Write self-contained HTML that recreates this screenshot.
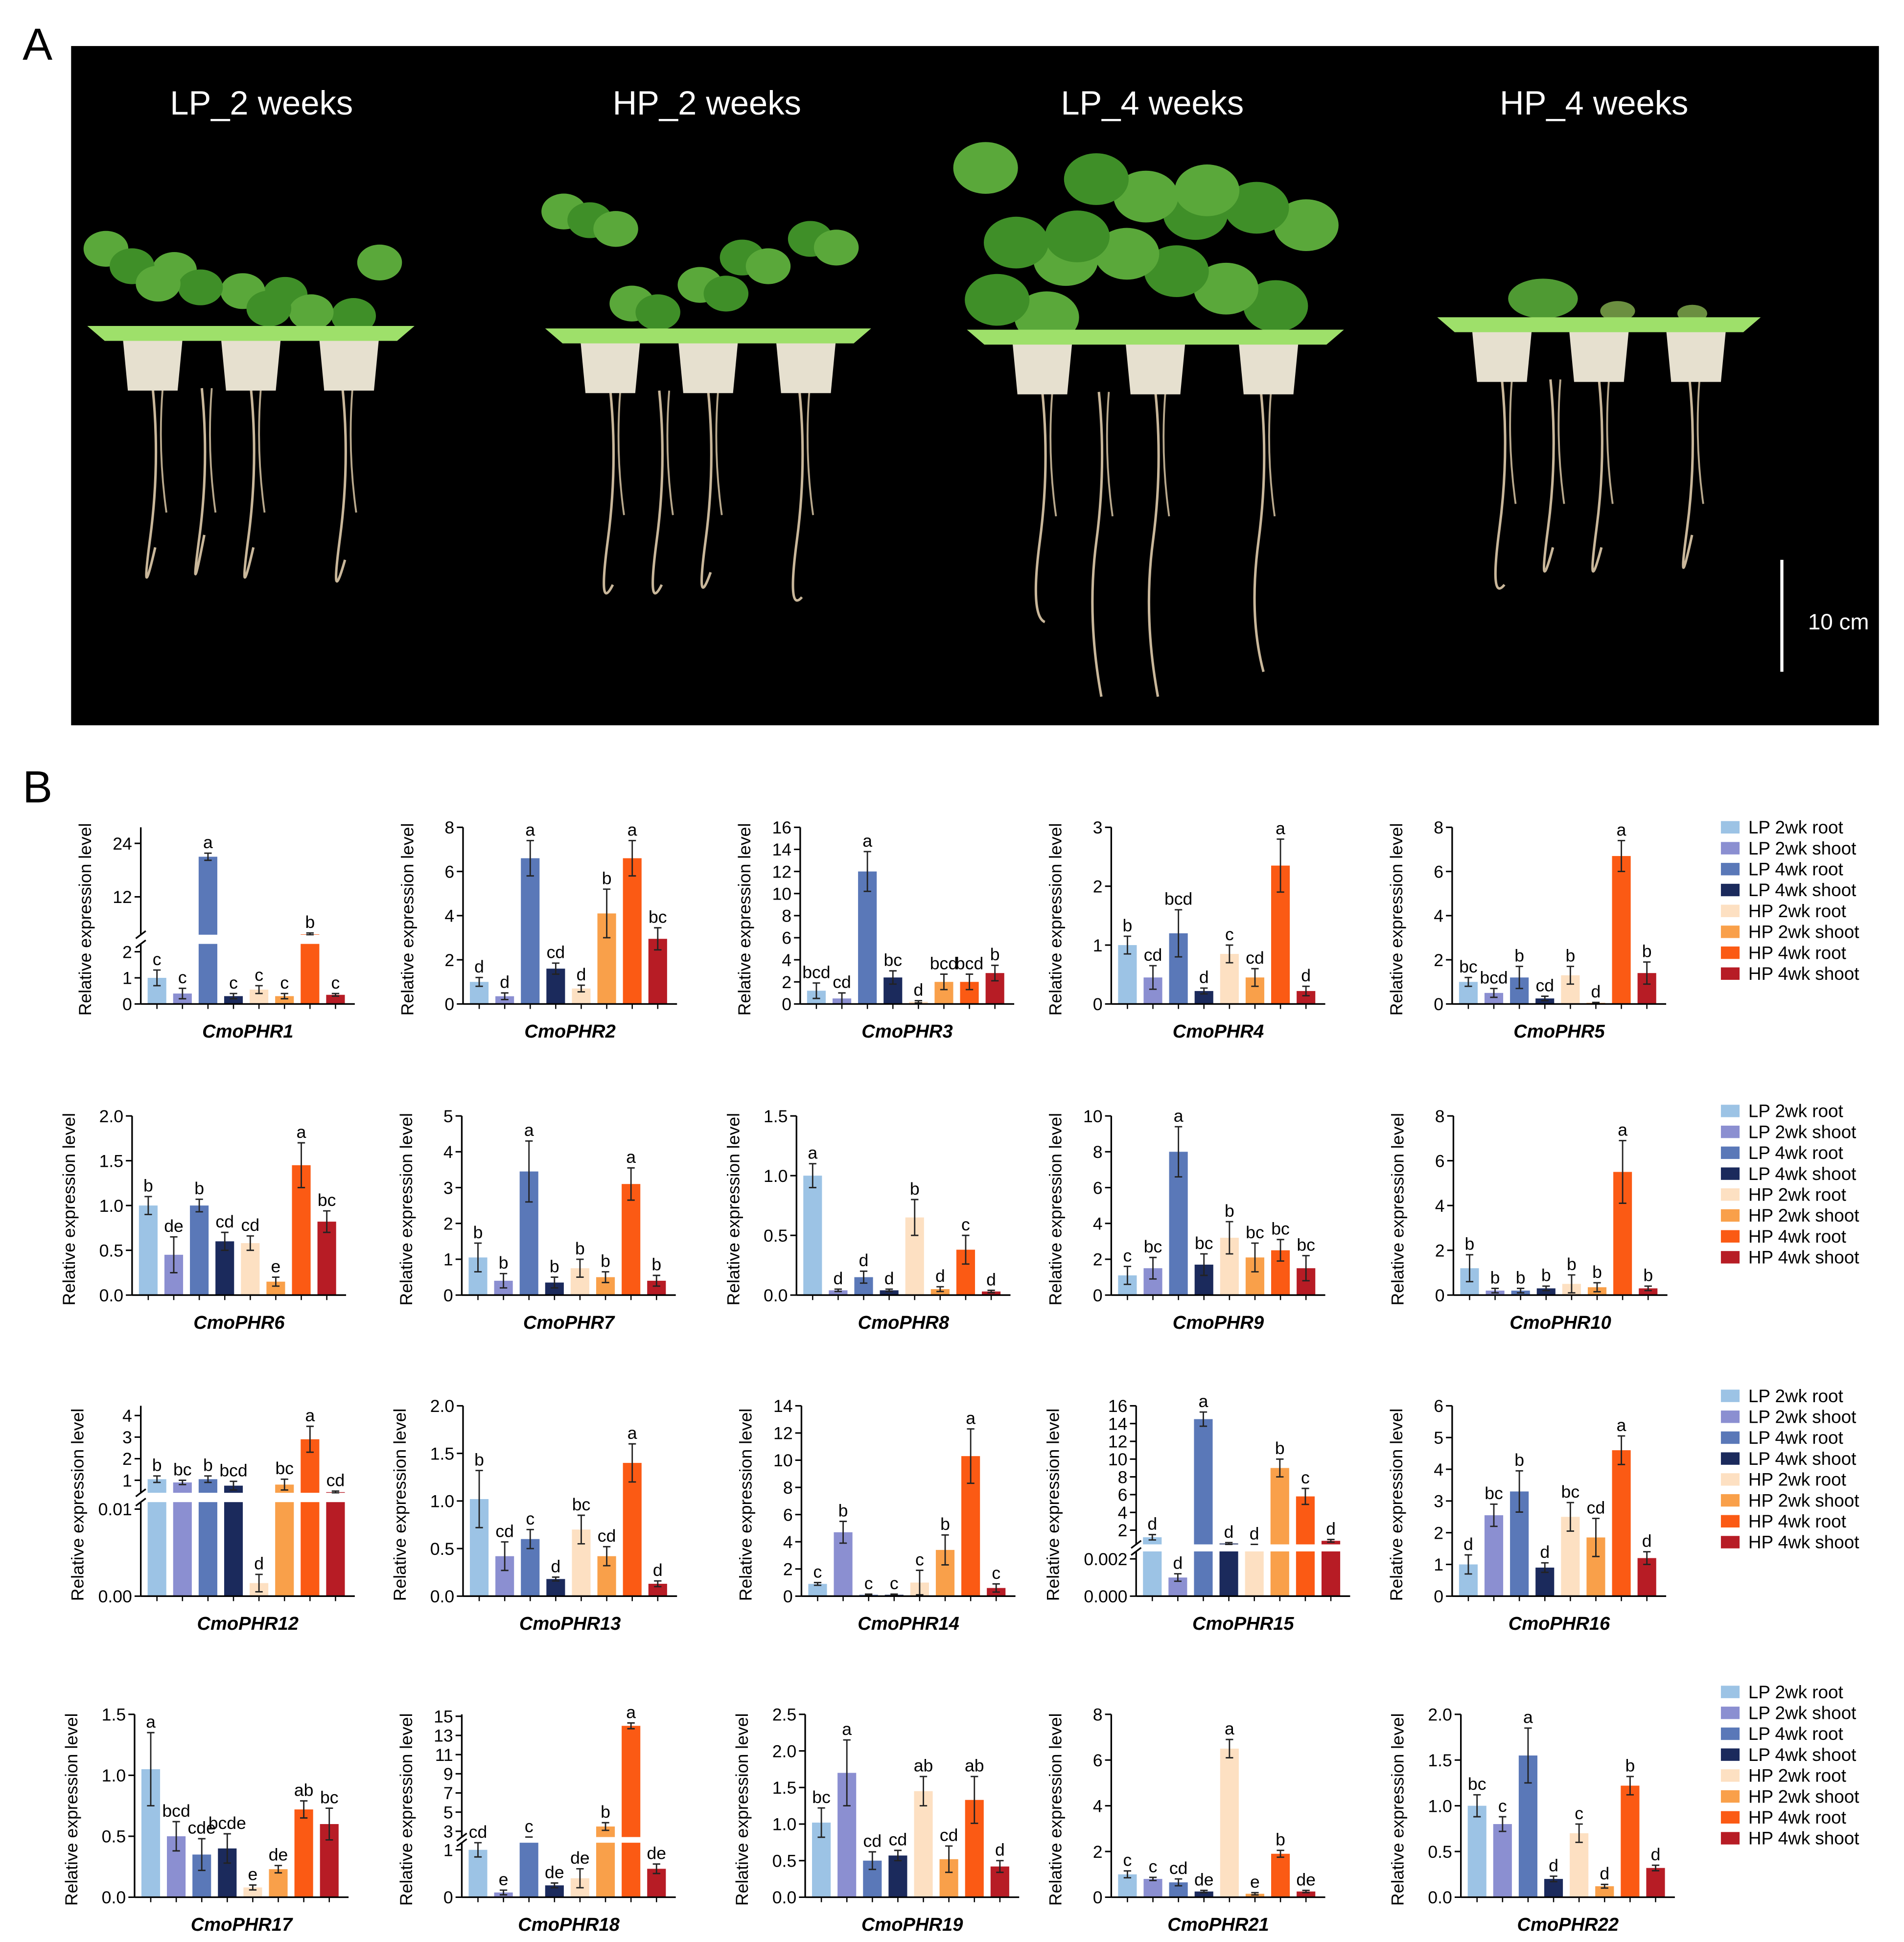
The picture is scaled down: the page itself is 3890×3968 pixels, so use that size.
<!DOCTYPE html>
<html><head><meta charset="utf-8"><style>
html,body{margin:0;padding:0;background:#fff}
svg{display:block}
text{font-family:"Liberation Sans",Arial,sans-serif}
</style></head><body>
<svg id="fig" width="3890" height="3968" viewBox="0 0 1530 1561" xmlns="http://www.w3.org/2000/svg">
<text x="18" y="48" font-size="36">A</text>
<rect x="57" y="37" width="1453" height="546" fill="#000"/>
<g id="photo"></g>
<text x="18" y="645" font-size="36">B</text>
<g id="charts"></g>
</svg>
<script>
const genes = ["CmoPHR1","CmoPHR2","CmoPHR3","CmoPHR4","CmoPHR5","CmoPHR6","CmoPHR7","CmoPHR8","CmoPHR9","CmoPHR10","CmoPHR12","CmoPHR13","CmoPHR14","CmoPHR15","CmoPHR16","CmoPHR17","CmoPHR18","CmoPHR19","CmoPHR21","CmoPHR22"];
const groups = ["LP 2wk root","LP 2wk shoot","LP 4wk root","LP 4wk shoot","HP 2wk root","HP 2wk shoot","HP 4wk root","HP 4wk shoot"];
const means = [
[1.0,0.4,21,0.3,0.55,0.3,3.6,0.35],
[1.0,0.35,6.6,1.6,0.7,4.1,6.6,2.95],
[1.2,0.5,12,2.4,0.2,2.0,2.0,2.8],
[1.0,0.45,1.2,0.22,0.85,0.45,2.35,0.22],
[1.0,0.5,1.2,0.25,1.3,0.05,6.7,1.4],
[1.0,0.45,1.0,0.6,0.58,0.15,1.45,0.82],
[1.05,0.4,3.45,0.35,0.75,0.5,3.1,0.4],
[1.0,0.04,0.15,0.04,0.65,0.05,0.38,0.03],
[1.1,1.5,8.0,1.7,3.2,2.1,2.5,1.5],
[1.2,0.2,0.2,0.3,0.5,0.35,5.5,0.3],
[1.05,0.9,1.05,0.75,0.0015,0.8,2.9,0.45],
[1.02,0.42,0.6,0.18,0.7,0.42,1.4,0.13],
[0.9,4.7,0.1,0.1,1.0,3.4,10.3,0.6],
[1.2,0.001,14.5,0.5,0.2,9,5.8,0.8],
[1.0,2.55,3.3,0.9,2.5,1.85,4.6,1.2],
[1.05,0.5,0.35,0.4,0.08,0.23,0.72,0.6],
[1.0,0.1,2.0,0.25,0.4,3.5,14,0.6],
[1.02,1.7,0.5,0.57,1.45,0.52,1.33,0.42],
[1.0,0.8,0.65,0.25,6.5,0.15,1.9,0.25],
[1.0,0.8,1.55,0.2,0.7,0.12,1.22,0.32]];
const errs = [
[0.3,0.2,0.8,0.1,0.15,0.1,0.3,0.05],
[0.2,0.15,0.8,0.25,0.15,1.1,0.8,0.5],
[0.7,0.5,1.8,0.6,0.1,0.7,0.7,0.7],
[0.15,0.2,0.4,0.05,0.15,0.15,0.45,0.08],
[0.2,0.2,0.5,0.1,0.4,0.02,0.7,0.5],
[0.1,0.2,0.07,0.1,0.08,0.05,0.25,0.12],
[0.4,0.2,0.85,0.15,0.25,0.15,0.45,0.15],
[0.1,0.01,0.05,0.01,0.15,0.02,0.12,0.01],
[0.5,0.6,1.4,0.6,0.9,0.8,0.6,0.7],
[0.6,0.1,0.1,0.1,0.4,0.2,1.4,0.1],
[0.15,0.1,0.15,0.2,0.001,0.25,0.6,0.05],
[0.3,0.15,0.1,0.02,0.15,0.1,0.2,0.03],
[0.1,0.8,0.05,0.05,0.9,1.1,2.0,0.3],
[0.3,0.0002,0.8,0.1,0.05,1.0,0.9,0.15],
[0.3,0.35,0.65,0.15,0.45,0.6,0.45,0.2],
[0.3,0.12,0.13,0.12,0.02,0.03,0.07,0.13],
[0.15,0.05,0.3,0.05,0.2,0.4,0.3,0.1],
[0.2,0.45,0.12,0.07,0.2,0.18,0.32,0.08],
[0.15,0.07,0.15,0.05,0.4,0.05,0.15,0.05],
[0.12,0.08,0.3,0.03,0.1,0.02,0.1,0.03]];
const letters = [
["c","c","a","c","c","c","b","c"],
["d","d","a","cd","d","b","a","bc"],
["bcd","cd","a","bc","d","bcd","bcd","b"],
["b","cd","bcd","d","c","cd","a","d"],
["bc","bcd","b","cd","b","d","a","b"],
["b","de","b","cd","cd","e","a","bc"],
["b","b","a","b","b","b","a","b"],
["a","d","d","d","b","d","c","d"],
["c","bc","a","bc","b","bc","bc","bc"],
["b","b","b","b","b","b","a","b"],
["b","bc","b","bcd","d","bc","a","cd"],
["b","cd","c","d","bc","cd","a","d"],
["c","b","c","c","c","b","a","c"],
["d","d","a","d","d","b","c","d"],
["d","bc","b","d","bc","cd","a","d"],
["a","bcd","cde","bcde","e","de","ab","bc"],
["cd","e","c","de","de","b","a","de"],
["bc","a","cd","cd","ab","cd","ab","d"],
["c","c","cd","de","a","e","b","de"],
["bc","c","a","d","c","d","b","d"]];
const yTicks = [
[0,1,2,12,24],[0,2,4,6,8],[0,2,4,6,8,10,12,14,16],[0,1,2,3],[0,2,4,6,8],
[0,0.5,1.0,1.5,2.0],[0,1,2,3,4,5],[0,0.5,1.0,1.5],[0,2,4,6,8,10],[0,2,4,6,8],
[0,0.01,1,2,3,4],[0,0.5,1.0,1.5,2.0],[0,2,4,6,8,10,12,14],[0,0.002,2,4,6,8,10,12,14,16],[0,1,2,3,4,5,6],
[0,0.5,1.0,1.5],[0,1,3,5,7,9,11,13,15],[0,0.5,1.0,1.5,2.0,2.5],[0,2,4,6,8],[0,0.5,1.0,1.5,2.0]];
const tickText = {10:["0.00","0.01","1","2","3","4"],13:["0.000","0.002","2","4","6","8","10","12","14","16"]};
const decimals = [0,0,0,0,0,1,0,1,0,0,2,1,0,3,0,1,0,1,0,1];
const colors = ["#9cc3e5","#8b8fd1","#5a78b8","#1b2a5c","#fde0c2","#f9a04a","#fb5a14","#b71c25"];
// broken-axis scale definitions (domain -> fraction of plot height)
const breaks = {
 0:[[0,2.3,0,0.34],[3.5,27.6,0.392,1.0]],
 10:[[0,0.0108,0,0.494],[0.42,4.45,0.543,1.0]],
 13:[[0,0.0024,0,0.235],[0.4,16,0.272,1.0]],
 16:[[0,1.15,0,0.298],[2.4,15.2,0.329,1.0]]};
const axisXs = [[113,372,643,893,1167],[106,371,640,893,1168],[113,372,644,913,1167],[108,371,647,893,1174]];
const rowB = [807,1041,1283,1525], rowT = [665,897,1130,1378];
const NS = "http://www.w3.org/2000/svg";
function mk(p, tag, a){const e=document.createElementNS(NS,tag);for(const k in a)e.setAttribute(k,a[k]);p.appendChild(e);return e;}
const charts = document.getElementById('charts');

function frac(ci, v){
  const b = breaks[ci];
  if(!b){const t=yTicks[ci];return v/t[t.length-1];}
  const lo=b[0], hi=b[1];
  if(v<=lo[1]) return lo[2]+(v-lo[0])/(lo[1]-lo[0])*(lo[3]-lo[2]);
  if(v<hi[0]) return hi[2];
  return hi[2]+(v-hi[0])/(hi[1]-hi[0])*(hi[3]-hi[2]);
}

genes.forEach((g,ci)=>{
  const r=Math.floor(ci/5), c=ci%5;
  const ax=axisXs[r][c], B=rowB[r], T=rowT[r], H=B-T;
  const y=v=>B-frac(ci,v)*H;
  const grp=mk(charts,'g',{});
  
  
  const xc=i=>ax+13+i*20.5;
  // bars
  means[ci].forEach((m,i)=>{
    const yt=y(m);
    const bar=mk(grp,'rect',{x:xc(i)-7.5,y:yt,width:15,height:Math.max(0.5,B-yt),fill:colors[i]});
    
    
  });
  // break band
  if(breaks[ci]){
    const y1=B-breaks[ci][0][3]*H, y2=B-breaks[ci][1][2]*H;
    mk(grp,'rect',{x:ax+1,y:y2,width:172,height:y1-y2,fill:'#fff'});
  }
  // error bars & letters
  means[ci].forEach((m,i)=>{
    const e=errs[ci][i], x=xc(i);
    const yt=y(m+e), yb=y(Math.max(0,m-e));
    const eb=mk(grp,'path',{d:`M${x},${yb}V${yt}M${x-3},${yt}H${x+3}M${x-3},${yb}H${x+3}`,stroke:'#222','stroke-width':1.1,fill:'none'});
    
    
    const lt=mk(grp,'text',{x:x,y:yt-4,'font-size':14,'text-anchor':'middle'});
    lt.textContent=letters[ci][i];
    
    
  });
  // axes
  const bk=breaks[ci];
  if(bk){
    const y1=B-bk[0][3]*H, y2=B-bk[1][2]*H;
    mk(grp,'path',{d:`M${ax},${B}V${y1}M${ax},${y2}V${T}M${ax-4},${y1+3}L${ax+4},${y1-3}M${ax-4},${y2+3}L${ax+4},${y2-3}`,stroke:'#000','stroke-width':1.3,fill:'none'});
  } else mk(grp,'path',{d:`M${ax},${B}V${T}`,stroke:'#000','stroke-width':1.3});
  const xa=mk(grp,'path',{d:`M${ax},${B}H${ax+172}`,stroke:'#000','stroke-width':1.3});
  
  
  means[ci].forEach((m,i)=>mk(grp,'path',{d:`M${xc(i)},${B}V${B+4}`,stroke:'#000','stroke-width':1}));
  yTicks[ci].forEach((t,k)=>{
    const yy=y(t);
    mk(grp,'path',{d:`M${ax-5},${yy}H${ax}`,stroke:'#000','stroke-width':1.2});
    const tl=mk(grp,'text',{x:ax-7,y:yy+5,'font-size':14,'text-anchor':'end'});
    tl.textContent = tickText[ci] ? tickText[ci][k] : t.toFixed(decimals[ci]);
    
    
  });
  const lbl=mk(grp,'text',{x:ax+86,y:B+27,'font-size':15,'font-weight':'bold','font-style':'italic','text-anchor':'middle'});
  lbl.textContent=g;
  
  
  const tx=ax-(bk&&ci===13?62:(decimals[ci]>0?46:40)), ty=(B+T)/2+3;
  const yt=mk(grp,'text',{x:tx,y:ty,'font-size':14,'text-anchor':'middle',transform:`rotate(-90 ${tx} ${ty})`});
  yt.textContent='Relative expression level';
  
  
});

// legends
[665,893,1122,1360].forEach((ly,li)=>{
  const lg=mk(charts,'g',{});
  
  
  groups.forEach((gname,i)=>{
    const yy=ly+i*16.8;
    mk(lg,'rect',{x:1383,y:yy-5,width:15,height:10,fill:colors[i]});
    const t=mk(lg,'text',{x:1405,y:yy+5,'font-size':14.5});
    t.textContent=gname;
    
    
  });
});

// photo panel
const ph=document.getElementById('photo');
const panels=[
 {cx:210,lab:"LP_2 weeks",tx0:70,tx1:333,ty:262,leafTop:190,rootEnd:[440,440,450,430]},
 {cx:568,lab:"HP_2 weeks",tx0:438,tx1:700,ty:264,leafTop:160,rootEnd:[470,460,480,470]},
 {cx:926,lab:"LP_4 weeks",tx0:777,tx1:1080,ty:265,leafTop:125,rootEnd:[500,560,540,560]},
 {cx:1281,lab:"HP_4 weeks",tx0:1155,tx1:1415,ty:255,leafTop:220,rootEnd:[470,440,430,440]}];
panels.forEach((p,pi)=>{
  const t=mk(ph,'text',{x:p.cx,y:92,'font-size':27,fill:'#fff','text-anchor':'middle'});
  t.textContent=p.lab;
  
  
  const w=p.tx1-p.tx0;
  // roots
  [0.2,0.5,0.78,0.35].forEach((f,k)=>{
    const x=p.tx0+w*f;
    mk(ph,'path',{d:`M${x},${p.ty+50} q6,60 -2,120 t4,${p.rootEnd[k]-p.ty-170}`,stroke:'#c9b79a','stroke-width':2,fill:'none'});
    mk(ph,'path',{d:`M${x+8},${p.ty+50} q-4,50 3,100`,stroke:'#b8a88c','stroke-width':1.5,fill:'none'});
  });
  // pots
  [0.2,0.5,0.8].forEach(f=>{
    const x=p.tx0+w*f;
    mk(ph,'path',{d:`M${x-24},${p.ty+10}L${x+24},${p.ty+10}L${x+20},${p.ty+52}L${x-20},${p.ty+52}Z`,fill:'#e6e0cf'});
  });
  // leaves
  if(pi<3){
    const n=pi===2?16:11;
    for(let k=0;k<n;k++){
      const lx=p.tx0+15+(w-30)*((k*0.618)%1), ly=p.leafTop+((k*37)%(p.ty-p.leafTop-15));
      const rx=pi===2?26:18;
      mk(ph,'ellipse',{cx:lx,cy:ly+10,rx:rx,ry:rx*0.8,fill:k%2?'#3f8f28':'#5aa83a'});
    }
  } else {
    mk(ph,'ellipse',{cx:1240,cy:240,rx:28,ry:16,fill:'#4f9a33'});
    mk(ph,'ellipse',{cx:1300,cy:250,rx:14,ry:8,fill:'#6b8f40'});
    mk(ph,'ellipse',{cx:1360,cy:252,rx:12,ry:7,fill:'#6b8f40'});
  }
  // tray
  const tr=mk(ph,'path',{d:`M${p.tx0},${p.ty}L${p.tx1},${p.ty}L${p.tx1-14},${p.ty+12}L${p.tx0+14},${p.ty+12}Z`,fill:'#9ee06a'});
  
  
});
mk(ph,'path',{d:'M1432,450V540',stroke:'#fff','stroke-width':2.5});
const sb=mk(ph,'text',{x:1453,y:506,'font-size':18,fill:'#fff'});
sb.textContent='10 cm';


</script>
</body></html>
